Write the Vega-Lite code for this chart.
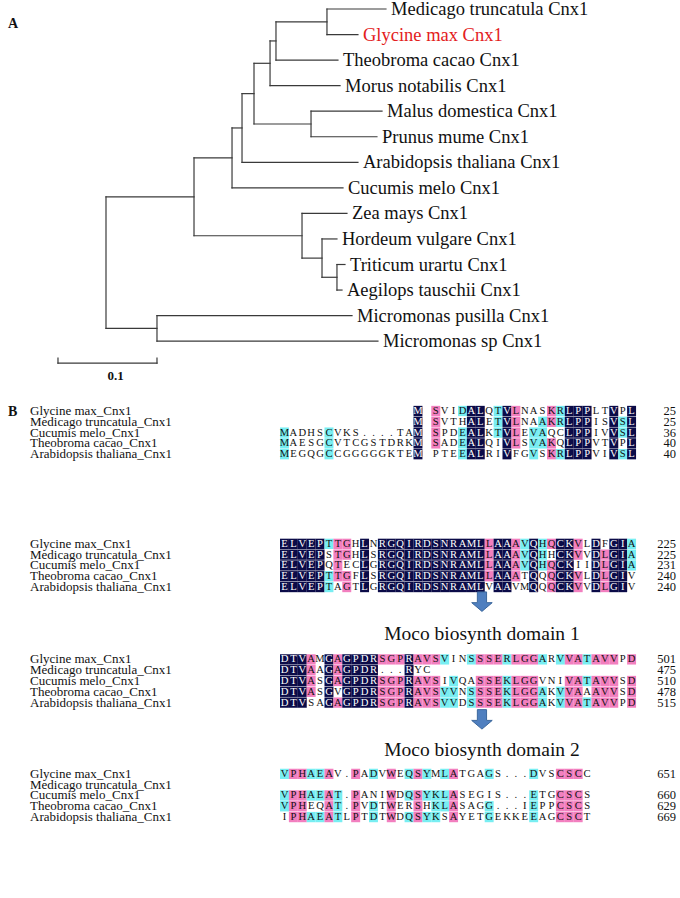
{
"$schema": "https://vega.github.io/schema/vega-lite/v6.json",
"padding": 0,
"spacing": 0,
"background": "white",
"config": {"view": {"stroke": null}, "font": "Liberation Serif"},
"datasets": {
"edges": [
{"x1":0,"x2":0.0889,"y1":7.35,"y2":7.35},{"x1":0,"x2":0.0515,"y1":12.5,"y2":12.5},
{"x1":0.0889,"x2":0.1273,"y1":5.83,"y2":5.83},{"x1":0.0889,"x2":0.198,"y1":8.875,"y2":8.875},
{"x1":0.1273,"x2":0.1374,"y1":4.656,"y2":4.656},{"x1":0.1273,"x2":0.2394,"y1":7,"y2":7},
{"x1":0.1374,"x2":0.1495,"y1":3.3125,"y2":3.3125},{"x1":0.1374,"x2":0.2545,"y1":6,"y2":6},
{"x1":0.1495,"x2":0.1657,"y1":2.125,"y2":2.125},{"x1":0.1495,"x2":0.2071,"y1":4.5,"y2":4.5},
{"x1":0.1657,"x2":0.1717,"y1":1.25,"y2":1.25},{"x1":0.1657,"x2":0.2364,"y1":3,"y2":3},
{"x1":0.1717,"x2":0.2232,"y1":0.5,"y2":0.5},{"x1":0.1717,"x2":0.2343,"y1":2,"y2":2},
{"x1":0.2232,"x2":0.2828,"y1":0,"y2":0},{"x1":0.2232,"x2":0.2545,"y1":1,"y2":1},
{"x1":0.2071,"x2":0.2788,"y1":4,"y2":4},{"x1":0.2071,"x2":0.2737,"y1":5,"y2":5},
{"x1":0.198,"x2":0.2434,"y1":8,"y2":8},{"x1":0.198,"x2":0.2182,"y1":9.75,"y2":9.75},
{"x1":0.2182,"x2":0.2333,"y1":9,"y2":9},{"x1":0.2182,"x2":0.2333,"y1":10.5,"y2":10.5},
{"x1":0.2333,"x2":0.2414,"y1":10,"y2":10},{"x1":0.2333,"x2":0.2384,"y1":11,"y2":11},
{"x1":0.0515,"x2":0.2485,"y1":12,"y2":12},{"x1":0.0515,"x2":0.2747,"y1":13,"y2":13},
{"x1":0,"x2":0,"y1":7.35,"y2":12.5},{"x1":0.0889,"x2":0.0889,"y1":5.83,"y2":8.875},
{"x1":0.1273,"x2":0.1273,"y1":4.656,"y2":7},{"x1":0.1374,"x2":0.1374,"y1":3.3125,"y2":6},
{"x1":0.1495,"x2":0.1495,"y1":2.125,"y2":4.5},{"x1":0.1657,"x2":0.1657,"y1":1.25,"y2":3},
{"x1":0.1717,"x2":0.1717,"y1":0.5,"y2":2},{"x1":0.2232,"x2":0.2232,"y1":0,"y2":1},
{"x1":0.2071,"x2":0.2071,"y1":4,"y2":5},{"x1":0.198,"x2":0.198,"y1":8,"y2":9.75},
{"x1":0.2182,"x2":0.2182,"y1":9,"y2":10.5},{"x1":0.2333,"x2":0.2333,"y1":10,"y2":11},
{"x1":0.0515,"x2":0.0515,"y1":12,"y2":13},
{"x1":-0.0485,"x2":0.0515,"y1":13.86,"y2":13.86},{"x1":-0.0485,"x2":-0.0485,"y1":13.66,"y2":13.86},{"x1":0.0515,"x2":0.0515,"y1":13.66,"y2":13.86}
],
"leaves": [
{"name":"Medicago truncatula Cnx1","idx":0,"tip":0.2828},
{"name":"Glycine max Cnx1","idx":1,"tip":0.2545},
{"name":"Theobroma cacao Cnx1","idx":2,"tip":0.2343},
{"name":"Morus notabilis Cnx1","idx":3,"tip":0.2364},
{"name":"Malus domestica Cnx1","idx":4,"tip":0.2788},
{"name":"Prunus mume Cnx1","idx":5,"tip":0.2737},
{"name":"Arabidopsis thaliana Cnx1","idx":6,"tip":0.2545},
{"name":"Cucumis melo Cnx1","idx":7,"tip":0.2394},
{"name":"Zea mays Cnx1","idx":8,"tip":0.2434},
{"name":"Hordeum vulgare Cnx1","idx":9,"tip":0.2333},
{"name":"Triticum urartu Cnx1","idx":10,"tip":0.2414},
{"name":"Aegilops tauschii Cnx1","idx":11,"tip":0.2384},
{"name":"Micromonas pusilla Cnx1","idx":12,"tip":0.2485},
{"name":"Micromonas sp Cnx1","idx":13,"tip":0.2747}
],
"treeNotes": [
{"t":"A","d":-0.099,"idx":0.59,"size":14},
{"t":"0.1","d":0.0015,"idx":14.38,"size":13}
],
"seqs": [
{"id":"a0","line":0,"name":"Glycine max_Cnx1","end":"25"},
{"id":"a1","line":1,"name":"Medicago truncatula_Cnx1","end":"25"},
{"id":"a2","line":2,"name":"Cucumis melo_Cnx1","end":"36"},
{"id":"a3","line":3,"name":"Theobroma cacao_Cnx1","end":"40"},
{"id":"a4","line":4,"name":"Arabidopsis thaliana_Cnx1","end":"40"},
{"id":"b0","line":12.3,"name":"Glycine max_Cnx1","end":"225"},
{"id":"b1","line":13.3,"name":"Medicago truncatula_Cnx1","end":"225"},
{"id":"b2","line":14.3,"name":"Cucumis melo_Cnx1","end":"231"},
{"id":"b3","line":15.3,"name":"Theobroma cacao_Cnx1","end":"240"},
{"id":"b4","line":16.3,"name":"Arabidopsis thaliana_Cnx1","end":"240"},
{"id":"c0","line":23,"name":"Glycine max_Cnx1","end":"501"},
{"id":"c1","line":24,"name":"Medicago truncatula_Cnx1","end":"475"},
{"id":"c2","line":25,"name":"Cucumis melo_Cnx1","end":"510"},
{"id":"c3","line":26,"name":"Theobroma cacao_Cnx1","end":"478"},
{"id":"c4","line":27,"name":"Arabidopsis thaliana_Cnx1","end":"515"},
{"id":"d0","line":33.6,"name":"Glycine max_Cnx1","end":"651"},
{"id":"d1","line":34.6,"name":"Medicago truncatula_Cnx1","end":""},
{"id":"d2","line":35.6,"name":"Cucumis melo_Cnx1","end":"660"},
{"id":"d3","line":36.6,"name":"Theobroma cacao_Cnx1","end":"629"},
{"id":"d4","line":37.6,"name":"Arabidopsis thaliana_Cnx1","end":"669"}
],
"heads": [
{"t":"Moco biosynth domain 1","line":20.65},
{"t":"Moco biosynth domain 2","line":31.4}
],
"arrows": [{"line":17.7},{"line":28.6}],
"res": [
{"s":"a0","c":15,"a":"M","h":"d"},{"s":"a0","c":17,"a":"S","h":"p"},{"s":"a0","c":18,"a":"V","h":"n"},{"s":"a0","c":19,"a":"I","h":"n"},{"s":"a0","c":20,"a":"D","h":"c"},{"s":"a0","c":21,"a":"A","h":"d"},{"s":"a0","c":22,"a":"L","h":"d"},{"s":"a0","c":23,"a":"Q","h":"n"},{"s":"a0","c":24,"a":"T","h":"c"},{"s":"a0","c":25,"a":"V","h":"d"},{"s":"a0","c":26,"a":"L","h":"p"},{"s":"a0","c":27,"a":"N","h":"n"},{"s":"a0","c":28,"a":"A","h":"n"},{"s":"a0","c":29,"a":"S","h":"n"},{"s":"a0","c":30,"a":"K","h":"p"},{"s":"a0","c":31,"a":"R","h":"c"},{"s":"a0","c":32,"a":"L","h":"d"},{"s":"a0","c":33,"a":"P","h":"d"},{"s":"a0","c":34,"a":"P","h":"d"},{"s":"a0","c":35,"a":"L","h":"n"},{"s":"a0","c":36,"a":"T","h":"n"},{"s":"a0","c":37,"a":"V","h":"d"},{"s":"a0","c":38,"a":"P","h":"n"},{"s":"a0","c":39,"a":"L","h":"d"},
{"s":"a1","c":15,"a":"M","h":"d"},{"s":"a1","c":17,"a":"S","h":"p"},{"s":"a1","c":18,"a":"V","h":"n"},{"s":"a1","c":19,"a":"T","h":"n"},{"s":"a1","c":20,"a":"H","h":"n"},{"s":"a1","c":21,"a":"A","h":"d"},{"s":"a1","c":22,"a":"L","h":"d"},{"s":"a1","c":23,"a":"E","h":"n"},{"s":"a1","c":24,"a":"T","h":"c"},{"s":"a1","c":25,"a":"V","h":"d"},{"s":"a1","c":26,"a":"L","h":"p"},{"s":"a1","c":27,"a":"N","h":"n"},{"s":"a1","c":28,"a":"A","h":"n"},{"s":"a1","c":29,"a":"A","h":"c"},{"s":"a1","c":30,"a":"K","h":"p"},{"s":"a1","c":31,"a":"R","h":"c"},{"s":"a1","c":32,"a":"L","h":"d"},{"s":"a1","c":33,"a":"P","h":"d"},{"s":"a1","c":34,"a":"P","h":"d"},{"s":"a1","c":35,"a":"I","h":"n"},{"s":"a1","c":36,"a":"S","h":"n"},{"s":"a1","c":37,"a":"V","h":"d"},{"s":"a1","c":38,"a":"S","h":"c"},{"s":"a1","c":39,"a":"L","h":"d"},
{"s":"a2","c":0,"a":"M","h":"c"},{"s":"a2","c":1,"a":"A","h":"n"},{"s":"a2","c":2,"a":"D","h":"n"},{"s":"a2","c":3,"a":"H","h":"n"},{"s":"a2","c":4,"a":"S","h":"n"},{"s":"a2","c":5,"a":"C","h":"c"},{"s":"a2","c":6,"a":"V","h":"n"},{"s":"a2","c":7,"a":"K","h":"n"},{"s":"a2","c":8,"a":"S","h":"n"},{"s":"a2","c":9,"a":".","h":"n"},{"s":"a2","c":10,"a":".","h":"n"},{"s":"a2","c":11,"a":".","h":"n"},{"s":"a2","c":12,"a":".","h":"n"},{"s":"a2","c":13,"a":"T","h":"n"},{"s":"a2","c":14,"a":"A","h":"n"},{"s":"a2","c":15,"a":"M","h":"d"},{"s":"a2","c":17,"a":"S","h":"p"},{"s":"a2","c":18,"a":"P","h":"n"},{"s":"a2","c":19,"a":"D","h":"n"},{"s":"a2","c":20,"a":"E","h":"c"},{"s":"a2","c":21,"a":"A","h":"d"},{"s":"a2","c":22,"a":"L","h":"d"},{"s":"a2","c":23,"a":"K","h":"n"},{"s":"a2","c":24,"a":"T","h":"c"},{"s":"a2","c":25,"a":"V","h":"d"},{"s":"a2","c":26,"a":"L","h":"p"},{"s":"a2","c":27,"a":"E","h":"n"},{"s":"a2","c":28,"a":"V","h":"c"},{"s":"a2","c":29,"a":"A","h":"c"},{"s":"a2","c":30,"a":"Q","h":"n"},{"s":"a2","c":31,"a":"C","h":"n"},{"s":"a2","c":32,"a":"L","h":"d"},{"s":"a2","c":33,"a":"P","h":"d"},{"s":"a2","c":34,"a":"P","h":"d"},{"s":"a2","c":35,"a":"I","h":"n"},{"s":"a2","c":36,"a":"V","h":"n"},{"s":"a2","c":37,"a":"V","h":"d"},{"s":"a2","c":38,"a":"S","h":"c"},{"s":"a2","c":39,"a":"L","h":"d"},
{"s":"a3","c":0,"a":"M","h":"c"},{"s":"a3","c":1,"a":"A","h":"n"},{"s":"a3","c":2,"a":"E","h":"n"},{"s":"a3","c":3,"a":"S","h":"n"},{"s":"a3","c":4,"a":"G","h":"n"},{"s":"a3","c":5,"a":"C","h":"c"},{"s":"a3","c":6,"a":"V","h":"n"},{"s":"a3","c":7,"a":"T","h":"n"},{"s":"a3","c":8,"a":"C","h":"n"},{"s":"a3","c":9,"a":"G","h":"n"},{"s":"a3","c":10,"a":"S","h":"n"},{"s":"a3","c":11,"a":"T","h":"n"},{"s":"a3","c":12,"a":"D","h":"n"},{"s":"a3","c":13,"a":"R","h":"n"},{"s":"a3","c":14,"a":"K","h":"n"},{"s":"a3","c":15,"a":"M","h":"d"},{"s":"a3","c":17,"a":"S","h":"p"},{"s":"a3","c":18,"a":"A","h":"n"},{"s":"a3","c":19,"a":"D","h":"n"},{"s":"a3","c":20,"a":"E","h":"c"},{"s":"a3","c":21,"a":"A","h":"d"},{"s":"a3","c":22,"a":"L","h":"d"},{"s":"a3","c":23,"a":"Q","h":"n"},{"s":"a3","c":24,"a":"I","h":"n"},{"s":"a3","c":25,"a":"V","h":"d"},{"s":"a3","c":26,"a":"L","h":"p"},{"s":"a3","c":27,"a":"S","h":"n"},{"s":"a3","c":28,"a":"V","h":"c"},{"s":"a3","c":29,"a":"A","h":"c"},{"s":"a3","c":30,"a":"K","h":"p"},{"s":"a3","c":31,"a":"Q","h":"n"},{"s":"a3","c":32,"a":"L","h":"d"},{"s":"a3","c":33,"a":"P","h":"d"},{"s":"a3","c":34,"a":"P","h":"d"},{"s":"a3","c":35,"a":"V","h":"n"},{"s":"a3","c":36,"a":"T","h":"n"},{"s":"a3","c":37,"a":"V","h":"d"},{"s":"a3","c":38,"a":"P","h":"n"},{"s":"a3","c":39,"a":"L","h":"d"},
{"s":"a4","c":0,"a":"M","h":"c"},{"s":"a4","c":1,"a":"E","h":"n"},{"s":"a4","c":2,"a":"G","h":"n"},{"s":"a4","c":3,"a":"Q","h":"n"},{"s":"a4","c":4,"a":"G","h":"n"},{"s":"a4","c":5,"a":"C","h":"c"},{"s":"a4","c":6,"a":"C","h":"n"},{"s":"a4","c":7,"a":"G","h":"n"},{"s":"a4","c":8,"a":"G","h":"n"},{"s":"a4","c":9,"a":"G","h":"n"},{"s":"a4","c":10,"a":"G","h":"n"},{"s":"a4","c":11,"a":"G","h":"n"},{"s":"a4","c":12,"a":"K","h":"n"},{"s":"a4","c":13,"a":"T","h":"n"},{"s":"a4","c":14,"a":"E","h":"n"},{"s":"a4","c":15,"a":"M","h":"d"},{"s":"a4","c":17,"a":"P","h":"n"},{"s":"a4","c":18,"a":"T","h":"n"},{"s":"a4","c":19,"a":"E","h":"n"},{"s":"a4","c":20,"a":"E","h":"c"},{"s":"a4","c":21,"a":"A","h":"d"},{"s":"a4","c":22,"a":"L","h":"d"},{"s":"a4","c":23,"a":"R","h":"n"},{"s":"a4","c":24,"a":"I","h":"n"},{"s":"a4","c":25,"a":"V","h":"d"},{"s":"a4","c":26,"a":"F","h":"n"},{"s":"a4","c":27,"a":"G","h":"n"},{"s":"a4","c":28,"a":"V","h":"c"},{"s":"a4","c":29,"a":"S","h":"n"},{"s":"a4","c":30,"a":"K","h":"p"},{"s":"a4","c":31,"a":"R","h":"c"},{"s":"a4","c":32,"a":"L","h":"d"},{"s":"a4","c":33,"a":"P","h":"d"},{"s":"a4","c":34,"a":"P","h":"d"},{"s":"a4","c":35,"a":"V","h":"n"},{"s":"a4","c":36,"a":"I","h":"n"},{"s":"a4","c":37,"a":"V","h":"d"},{"s":"a4","c":38,"a":"S","h":"c"},{"s":"a4","c":39,"a":"L","h":"d"},
{"s":"b0","c":0,"a":"E","h":"d"},{"s":"b0","c":1,"a":"L","h":"d"},{"s":"b0","c":2,"a":"V","h":"d"},{"s":"b0","c":3,"a":"E","h":"d"},{"s":"b0","c":4,"a":"P","h":"d"},{"s":"b0","c":5,"a":"T","h":"c"},{"s":"b0","c":6,"a":"T","h":"p"},{"s":"b0","c":7,"a":"G","h":"p"},{"s":"b0","c":8,"a":"H","h":"n"},{"s":"b0","c":9,"a":"L","h":"d"},{"s":"b0","c":10,"a":"N","h":"n"},{"s":"b0","c":11,"a":"R","h":"d"},{"s":"b0","c":12,"a":"G","h":"d"},{"s":"b0","c":13,"a":"Q","h":"d"},{"s":"b0","c":14,"a":"I","h":"d"},{"s":"b0","c":15,"a":"R","h":"d"},{"s":"b0","c":16,"a":"D","h":"d"},{"s":"b0","c":17,"a":"S","h":"d"},{"s":"b0","c":18,"a":"N","h":"d"},{"s":"b0","c":19,"a":"R","h":"d"},{"s":"b0","c":20,"a":"A","h":"d"},{"s":"b0","c":21,"a":"M","h":"d"},{"s":"b0","c":22,"a":"L","h":"d"},{"s":"b0","c":23,"a":"L","h":"p"},{"s":"b0","c":24,"a":"A","h":"d"},{"s":"b0","c":25,"a":"A","h":"d"},{"s":"b0","c":26,"a":"A","h":"p"},{"s":"b0","c":27,"a":"V","h":"c"},{"s":"b0","c":28,"a":"Q","h":"d"},{"s":"b0","c":29,"a":"H","h":"c"},{"s":"b0","c":30,"a":"Q","h":"p"},{"s":"b0","c":31,"a":"C","h":"d"},{"s":"b0","c":32,"a":"K","h":"d"},{"s":"b0","c":33,"a":"V","h":"p"},{"s":"b0","c":34,"a":"L","h":"n"},{"s":"b0","c":35,"a":"D","h":"d"},{"s":"b0","c":36,"a":"F","h":"n"},{"s":"b0","c":37,"a":"G","h":"d"},{"s":"b0","c":38,"a":"I","h":"d"},{"s":"b0","c":39,"a":"A","h":"c"},
{"s":"b1","c":0,"a":"E","h":"d"},{"s":"b1","c":1,"a":"L","h":"d"},{"s":"b1","c":2,"a":"V","h":"d"},{"s":"b1","c":3,"a":"E","h":"d"},{"s":"b1","c":4,"a":"P","h":"d"},{"s":"b1","c":5,"a":"S","h":"n"},{"s":"b1","c":6,"a":"T","h":"p"},{"s":"b1","c":7,"a":"G","h":"p"},{"s":"b1","c":8,"a":"H","h":"n"},{"s":"b1","c":9,"a":"L","h":"d"},{"s":"b1","c":10,"a":"S","h":"n"},{"s":"b1","c":11,"a":"R","h":"d"},{"s":"b1","c":12,"a":"G","h":"d"},{"s":"b1","c":13,"a":"Q","h":"d"},{"s":"b1","c":14,"a":"I","h":"d"},{"s":"b1","c":15,"a":"R","h":"d"},{"s":"b1","c":16,"a":"D","h":"d"},{"s":"b1","c":17,"a":"S","h":"d"},{"s":"b1","c":18,"a":"N","h":"d"},{"s":"b1","c":19,"a":"R","h":"d"},{"s":"b1","c":20,"a":"A","h":"d"},{"s":"b1","c":21,"a":"M","h":"d"},{"s":"b1","c":22,"a":"L","h":"d"},{"s":"b1","c":23,"a":"L","h":"p"},{"s":"b1","c":24,"a":"A","h":"d"},{"s":"b1","c":25,"a":"A","h":"d"},{"s":"b1","c":26,"a":"A","h":"p"},{"s":"b1","c":27,"a":"V","h":"c"},{"s":"b1","c":28,"a":"Q","h":"d"},{"s":"b1","c":29,"a":"H","h":"c"},{"s":"b1","c":30,"a":"H","h":"n"},{"s":"b1","c":31,"a":"C","h":"d"},{"s":"b1","c":32,"a":"K","h":"d"},{"s":"b1","c":33,"a":"V","h":"p"},{"s":"b1","c":34,"a":"V","h":"n"},{"s":"b1","c":35,"a":"D","h":"d"},{"s":"b1","c":36,"a":"L","h":"p"},{"s":"b1","c":37,"a":"G","h":"d"},{"s":"b1","c":38,"a":"I","h":"d"},{"s":"b1","c":39,"a":"A","h":"c"},
{"s":"b2","c":0,"a":"E","h":"d"},{"s":"b2","c":1,"a":"L","h":"d"},{"s":"b2","c":2,"a":"V","h":"d"},{"s":"b2","c":3,"a":"E","h":"d"},{"s":"b2","c":4,"a":"P","h":"d"},{"s":"b2","c":5,"a":"Q","h":"n"},{"s":"b2","c":6,"a":"T","h":"p"},{"s":"b2","c":7,"a":"E","h":"n"},{"s":"b2","c":8,"a":"C","h":"n"},{"s":"b2","c":9,"a":"L","h":"d"},{"s":"b2","c":10,"a":"G","h":"n"},{"s":"b2","c":11,"a":"R","h":"d"},{"s":"b2","c":12,"a":"G","h":"d"},{"s":"b2","c":13,"a":"Q","h":"d"},{"s":"b2","c":14,"a":"I","h":"d"},{"s":"b2","c":15,"a":"R","h":"d"},{"s":"b2","c":16,"a":"D","h":"d"},{"s":"b2","c":17,"a":"S","h":"d"},{"s":"b2","c":18,"a":"N","h":"d"},{"s":"b2","c":19,"a":"R","h":"d"},{"s":"b2","c":20,"a":"A","h":"d"},{"s":"b2","c":21,"a":"M","h":"d"},{"s":"b2","c":22,"a":"L","h":"d"},{"s":"b2","c":23,"a":"L","h":"p"},{"s":"b2","c":24,"a":"A","h":"d"},{"s":"b2","c":25,"a":"A","h":"d"},{"s":"b2","c":26,"a":"A","h":"p"},{"s":"b2","c":27,"a":"V","h":"c"},{"s":"b2","c":28,"a":"Q","h":"d"},{"s":"b2","c":29,"a":"H","h":"c"},{"s":"b2","c":30,"a":"Q","h":"p"},{"s":"b2","c":31,"a":"C","h":"d"},{"s":"b2","c":32,"a":"K","h":"d"},{"s":"b2","c":33,"a":"I","h":"n"},{"s":"b2","c":34,"a":"I","h":"n"},{"s":"b2","c":35,"a":"D","h":"d"},{"s":"b2","c":36,"a":"L","h":"p"},{"s":"b2","c":37,"a":"G","h":"d"},{"s":"b2","c":38,"a":"I","h":"d"},{"s":"b2","c":39,"a":"A","h":"c"},
{"s":"b3","c":0,"a":"E","h":"d"},{"s":"b3","c":1,"a":"L","h":"d"},{"s":"b3","c":2,"a":"V","h":"d"},{"s":"b3","c":3,"a":"E","h":"d"},{"s":"b3","c":4,"a":"P","h":"d"},{"s":"b3","c":5,"a":"T","h":"c"},{"s":"b3","c":6,"a":"T","h":"p"},{"s":"b3","c":7,"a":"G","h":"p"},{"s":"b3","c":8,"a":"F","h":"n"},{"s":"b3","c":9,"a":"L","h":"d"},{"s":"b3","c":10,"a":"S","h":"n"},{"s":"b3","c":11,"a":"R","h":"d"},{"s":"b3","c":12,"a":"G","h":"d"},{"s":"b3","c":13,"a":"Q","h":"d"},{"s":"b3","c":14,"a":"I","h":"d"},{"s":"b3","c":15,"a":"R","h":"d"},{"s":"b3","c":16,"a":"D","h":"d"},{"s":"b3","c":17,"a":"S","h":"d"},{"s":"b3","c":18,"a":"N","h":"d"},{"s":"b3","c":19,"a":"R","h":"d"},{"s":"b3","c":20,"a":"A","h":"d"},{"s":"b3","c":21,"a":"M","h":"d"},{"s":"b3","c":22,"a":"L","h":"d"},{"s":"b3","c":23,"a":"L","h":"p"},{"s":"b3","c":24,"a":"A","h":"d"},{"s":"b3","c":25,"a":"A","h":"d"},{"s":"b3","c":26,"a":"A","h":"p"},{"s":"b3","c":27,"a":"T","h":"n"},{"s":"b3","c":28,"a":"Q","h":"d"},{"s":"b3","c":29,"a":"Q","h":"n"},{"s":"b3","c":30,"a":"Q","h":"p"},{"s":"b3","c":31,"a":"C","h":"d"},{"s":"b3","c":32,"a":"K","h":"d"},{"s":"b3","c":33,"a":"V","h":"p"},{"s":"b3","c":34,"a":"L","h":"n"},{"s":"b3","c":35,"a":"D","h":"d"},{"s":"b3","c":36,"a":"L","h":"p"},{"s":"b3","c":37,"a":"G","h":"d"},{"s":"b3","c":38,"a":"I","h":"d"},{"s":"b3","c":39,"a":"V","h":"n"},
{"s":"b4","c":0,"a":"E","h":"d"},{"s":"b4","c":1,"a":"L","h":"d"},{"s":"b4","c":2,"a":"V","h":"d"},{"s":"b4","c":3,"a":"E","h":"d"},{"s":"b4","c":4,"a":"P","h":"d"},{"s":"b4","c":5,"a":"T","h":"c"},{"s":"b4","c":6,"a":"A","h":"n"},{"s":"b4","c":7,"a":"G","h":"p"},{"s":"b4","c":8,"a":"T","h":"n"},{"s":"b4","c":9,"a":"L","h":"d"},{"s":"b4","c":10,"a":"G","h":"n"},{"s":"b4","c":11,"a":"R","h":"d"},{"s":"b4","c":12,"a":"G","h":"d"},{"s":"b4","c":13,"a":"Q","h":"d"},{"s":"b4","c":14,"a":"I","h":"d"},{"s":"b4","c":15,"a":"R","h":"d"},{"s":"b4","c":16,"a":"D","h":"d"},{"s":"b4","c":17,"a":"S","h":"d"},{"s":"b4","c":18,"a":"N","h":"d"},{"s":"b4","c":19,"a":"R","h":"d"},{"s":"b4","c":20,"a":"A","h":"d"},{"s":"b4","c":21,"a":"M","h":"d"},{"s":"b4","c":22,"a":"L","h":"d"},{"s":"b4","c":23,"a":"V","h":"n"},{"s":"b4","c":24,"a":"A","h":"d"},{"s":"b4","c":25,"a":"A","h":"d"},{"s":"b4","c":26,"a":"V","h":"n"},{"s":"b4","c":27,"a":"M","h":"n"},{"s":"b4","c":28,"a":"Q","h":"d"},{"s":"b4","c":29,"a":"Q","h":"n"},{"s":"b4","c":30,"a":"Q","h":"p"},{"s":"b4","c":31,"a":"C","h":"d"},{"s":"b4","c":32,"a":"K","h":"d"},{"s":"b4","c":33,"a":"V","h":"p"},{"s":"b4","c":34,"a":"V","h":"n"},{"s":"b4","c":35,"a":"D","h":"d"},{"s":"b4","c":36,"a":"L","h":"p"},{"s":"b4","c":37,"a":"G","h":"d"},{"s":"b4","c":38,"a":"I","h":"d"},{"s":"b4","c":39,"a":"V","h":"n"},
{"s":"c0","c":0,"a":"D","h":"d"},{"s":"c0","c":1,"a":"T","h":"d"},{"s":"c0","c":2,"a":"V","h":"d"},{"s":"c0","c":3,"a":"A","h":"p"},{"s":"c0","c":4,"a":"M","h":"n"},{"s":"c0","c":5,"a":"G","h":"d"},{"s":"c0","c":6,"a":"A","h":"p"},{"s":"c0","c":7,"a":"G","h":"d"},{"s":"c0","c":8,"a":"P","h":"d"},{"s":"c0","c":9,"a":"D","h":"d"},{"s":"c0","c":10,"a":"R","h":"d"},{"s":"c0","c":11,"a":"S","h":"p"},{"s":"c0","c":12,"a":"G","h":"p"},{"s":"c0","c":13,"a":"P","h":"p"},{"s":"c0","c":14,"a":"R","h":"d"},{"s":"c0","c":15,"a":"A","h":"p"},{"s":"c0","c":16,"a":"V","h":"p"},{"s":"c0","c":17,"a":"S","h":"p"},{"s":"c0","c":18,"a":"V","h":"c"},{"s":"c0","c":19,"a":"I","h":"n"},{"s":"c0","c":20,"a":"N","h":"n"},{"s":"c0","c":21,"a":"S","h":"c"},{"s":"c0","c":22,"a":"S","h":"p"},{"s":"c0","c":23,"a":"S","h":"p"},{"s":"c0","c":24,"a":"E","h":"p"},{"s":"c0","c":25,"a":"R","h":"c"},{"s":"c0","c":26,"a":"L","h":"p"},{"s":"c0","c":27,"a":"G","h":"p"},{"s":"c0","c":28,"a":"G","h":"p"},{"s":"c0","c":29,"a":"A","h":"c"},{"s":"c0","c":30,"a":"R","h":"n"},{"s":"c0","c":31,"a":"V","h":"c"},{"s":"c0","c":32,"a":"V","h":"p"},{"s":"c0","c":33,"a":"A","h":"p"},{"s":"c0","c":34,"a":"T","h":"c"},{"s":"c0","c":35,"a":"A","h":"p"},{"s":"c0","c":36,"a":"V","h":"p"},{"s":"c0","c":37,"a":"V","h":"p"},{"s":"c0","c":38,"a":"P","h":"n"},{"s":"c0","c":39,"a":"D","h":"p"},
{"s":"c1","c":0,"a":"D","h":"d"},{"s":"c1","c":1,"a":"T","h":"d"},{"s":"c1","c":2,"a":"V","h":"d"},{"s":"c1","c":3,"a":"A","h":"p"},{"s":"c1","c":4,"a":"A","h":"n"},{"s":"c1","c":5,"a":"G","h":"d"},{"s":"c1","c":6,"a":"A","h":"p"},{"s":"c1","c":7,"a":"G","h":"d"},{"s":"c1","c":8,"a":"P","h":"d"},{"s":"c1","c":9,"a":"D","h":"d"},{"s":"c1","c":10,"a":"R","h":"d"},{"s":"c1","c":11,"a":".","h":"n"},{"s":"c1","c":12,"a":".","h":"n"},{"s":"c1","c":13,"a":".","h":"n"},{"s":"c1","c":14,"a":"R","h":"d"},{"s":"c1","c":15,"a":"Y","h":"n"},{"s":"c1","c":16,"a":"C","h":"n"},
{"s":"c2","c":0,"a":"D","h":"d"},{"s":"c2","c":1,"a":"T","h":"d"},{"s":"c2","c":2,"a":"V","h":"d"},{"s":"c2","c":3,"a":"A","h":"p"},{"s":"c2","c":4,"a":"S","h":"n"},{"s":"c2","c":5,"a":"G","h":"d"},{"s":"c2","c":6,"a":"A","h":"p"},{"s":"c2","c":7,"a":"G","h":"d"},{"s":"c2","c":8,"a":"P","h":"d"},{"s":"c2","c":9,"a":"D","h":"d"},{"s":"c2","c":10,"a":"R","h":"d"},{"s":"c2","c":11,"a":"S","h":"p"},{"s":"c2","c":12,"a":"G","h":"p"},{"s":"c2","c":13,"a":"P","h":"p"},{"s":"c2","c":14,"a":"R","h":"d"},{"s":"c2","c":15,"a":"A","h":"p"},{"s":"c2","c":16,"a":"V","h":"p"},{"s":"c2","c":17,"a":"S","h":"p"},{"s":"c2","c":18,"a":"I","h":"n"},{"s":"c2","c":19,"a":"V","h":"c"},{"s":"c2","c":20,"a":"Q","h":"n"},{"s":"c2","c":21,"a":"A","h":"n"},{"s":"c2","c":22,"a":"S","h":"p"},{"s":"c2","c":23,"a":"S","h":"p"},{"s":"c2","c":24,"a":"E","h":"p"},{"s":"c2","c":25,"a":"K","h":"c"},{"s":"c2","c":26,"a":"L","h":"p"},{"s":"c2","c":27,"a":"G","h":"p"},{"s":"c2","c":28,"a":"G","h":"p"},{"s":"c2","c":29,"a":"V","h":"n"},{"s":"c2","c":30,"a":"N","h":"n"},{"s":"c2","c":31,"a":"I","h":"n"},{"s":"c2","c":32,"a":"V","h":"p"},{"s":"c2","c":33,"a":"A","h":"p"},{"s":"c2","c":34,"a":"T","h":"c"},{"s":"c2","c":35,"a":"A","h":"p"},{"s":"c2","c":36,"a":"V","h":"p"},{"s":"c2","c":37,"a":"V","h":"p"},{"s":"c2","c":38,"a":"S","h":"n"},{"s":"c2","c":39,"a":"D","h":"p"},
{"s":"c3","c":0,"a":"D","h":"d"},{"s":"c3","c":1,"a":"T","h":"d"},{"s":"c3","c":2,"a":"V","h":"d"},{"s":"c3","c":3,"a":"A","h":"p"},{"s":"c3","c":4,"a":"S","h":"n"},{"s":"c3","c":5,"a":"G","h":"d"},{"s":"c3","c":6,"a":"V","h":"n"},{"s":"c3","c":7,"a":"G","h":"d"},{"s":"c3","c":8,"a":"P","h":"d"},{"s":"c3","c":9,"a":"D","h":"d"},{"s":"c3","c":10,"a":"R","h":"d"},{"s":"c3","c":11,"a":"S","h":"p"},{"s":"c3","c":12,"a":"G","h":"p"},{"s":"c3","c":13,"a":"P","h":"p"},{"s":"c3","c":14,"a":"R","h":"d"},{"s":"c3","c":15,"a":"A","h":"p"},{"s":"c3","c":16,"a":"V","h":"p"},{"s":"c3","c":17,"a":"S","h":"p"},{"s":"c3","c":18,"a":"V","h":"c"},{"s":"c3","c":19,"a":"V","h":"c"},{"s":"c3","c":20,"a":"N","h":"n"},{"s":"c3","c":21,"a":"S","h":"c"},{"s":"c3","c":22,"a":"S","h":"p"},{"s":"c3","c":23,"a":"S","h":"p"},{"s":"c3","c":24,"a":"E","h":"p"},{"s":"c3","c":25,"a":"K","h":"c"},{"s":"c3","c":26,"a":"L","h":"p"},{"s":"c3","c":27,"a":"G","h":"p"},{"s":"c3","c":28,"a":"G","h":"p"},{"s":"c3","c":29,"a":"A","h":"c"},{"s":"c3","c":30,"a":"K","h":"n"},{"s":"c3","c":31,"a":"V","h":"c"},{"s":"c3","c":32,"a":"V","h":"p"},{"s":"c3","c":33,"a":"A","h":"p"},{"s":"c3","c":34,"a":"A","h":"n"},{"s":"c3","c":35,"a":"A","h":"p"},{"s":"c3","c":36,"a":"V","h":"p"},{"s":"c3","c":37,"a":"V","h":"p"},{"s":"c3","c":38,"a":"S","h":"n"},{"s":"c3","c":39,"a":"D","h":"p"},
{"s":"c4","c":0,"a":"D","h":"d"},{"s":"c4","c":1,"a":"T","h":"d"},{"s":"c4","c":2,"a":"V","h":"d"},{"s":"c4","c":3,"a":"S","h":"n"},{"s":"c4","c":4,"a":"A","h":"n"},{"s":"c4","c":5,"a":"G","h":"d"},{"s":"c4","c":6,"a":"A","h":"p"},{"s":"c4","c":7,"a":"G","h":"d"},{"s":"c4","c":8,"a":"P","h":"d"},{"s":"c4","c":9,"a":"D","h":"d"},{"s":"c4","c":10,"a":"R","h":"d"},{"s":"c4","c":11,"a":"S","h":"p"},{"s":"c4","c":12,"a":"G","h":"p"},{"s":"c4","c":13,"a":"P","h":"p"},{"s":"c4","c":14,"a":"R","h":"d"},{"s":"c4","c":15,"a":"A","h":"p"},{"s":"c4","c":16,"a":"V","h":"p"},{"s":"c4","c":17,"a":"S","h":"p"},{"s":"c4","c":18,"a":"V","h":"c"},{"s":"c4","c":19,"a":"V","h":"c"},{"s":"c4","c":20,"a":"D","h":"n"},{"s":"c4","c":21,"a":"S","h":"c"},{"s":"c4","c":22,"a":"S","h":"p"},{"s":"c4","c":23,"a":"S","h":"p"},{"s":"c4","c":24,"a":"E","h":"p"},{"s":"c4","c":25,"a":"K","h":"c"},{"s":"c4","c":26,"a":"L","h":"p"},{"s":"c4","c":27,"a":"G","h":"p"},{"s":"c4","c":28,"a":"G","h":"p"},{"s":"c4","c":29,"a":"A","h":"c"},{"s":"c4","c":30,"a":"K","h":"n"},{"s":"c4","c":31,"a":"V","h":"c"},{"s":"c4","c":32,"a":"V","h":"p"},{"s":"c4","c":33,"a":"A","h":"p"},{"s":"c4","c":34,"a":"T","h":"c"},{"s":"c4","c":35,"a":"A","h":"p"},{"s":"c4","c":36,"a":"V","h":"p"},{"s":"c4","c":37,"a":"V","h":"p"},{"s":"c4","c":38,"a":"P","h":"n"},{"s":"c4","c":39,"a":"D","h":"p"},
{"s":"d0","c":0,"a":"V","h":"c"},{"s":"d0","c":1,"a":"P","h":"p"},{"s":"d0","c":2,"a":"H","h":"p"},{"s":"d0","c":3,"a":"A","h":"c"},{"s":"d0","c":4,"a":"E","h":"c"},{"s":"d0","c":5,"a":"A","h":"p"},{"s":"d0","c":6,"a":"V","h":"n"},{"s":"d0","c":7,"a":".","h":"n"},{"s":"d0","c":8,"a":"P","h":"p"},{"s":"d0","c":9,"a":"A","h":"n"},{"s":"d0","c":10,"a":"D","h":"c"},{"s":"d0","c":11,"a":"V","h":"n"},{"s":"d0","c":12,"a":"W","h":"p"},{"s":"d0","c":13,"a":"E","h":"n"},{"s":"d0","c":14,"a":"Q","h":"c"},{"s":"d0","c":15,"a":"S","h":"p"},{"s":"d0","c":16,"a":"Y","h":"c"},{"s":"d0","c":17,"a":"M","h":"n"},{"s":"d0","c":18,"a":"L","h":"c"},{"s":"d0","c":19,"a":"A","h":"p"},{"s":"d0","c":20,"a":"T","h":"n"},{"s":"d0","c":21,"a":"G","h":"n"},{"s":"d0","c":22,"a":"A","h":"n"},{"s":"d0","c":23,"a":"G","h":"c"},{"s":"d0","c":24,"a":"S","h":"n"},{"s":"d0","c":25,"a":".","h":"n"},{"s":"d0","c":26,"a":".","h":"n"},{"s":"d0","c":27,"a":".","h":"n"},{"s":"d0","c":28,"a":"D","h":"c"},{"s":"d0","c":29,"a":"V","h":"n"},{"s":"d0","c":30,"a":"S","h":"n"},{"s":"d0","c":31,"a":"C","h":"p"},{"s":"d0","c":32,"a":"S","h":"p"},{"s":"d0","c":33,"a":"C","h":"p"},{"s":"d0","c":34,"a":"C","h":"n"},
{"s":"d2","c":0,"a":"V","h":"c"},{"s":"d2","c":1,"a":"P","h":"p"},{"s":"d2","c":2,"a":"H","h":"p"},{"s":"d2","c":3,"a":"A","h":"c"},{"s":"d2","c":4,"a":"E","h":"c"},{"s":"d2","c":5,"a":"A","h":"p"},{"s":"d2","c":6,"a":"T","h":"c"},{"s":"d2","c":7,"a":".","h":"n"},{"s":"d2","c":8,"a":"P","h":"p"},{"s":"d2","c":9,"a":"A","h":"n"},{"s":"d2","c":10,"a":"N","h":"n"},{"s":"d2","c":11,"a":"I","h":"n"},{"s":"d2","c":12,"a":"W","h":"p"},{"s":"d2","c":13,"a":"D","h":"n"},{"s":"d2","c":14,"a":"Q","h":"c"},{"s":"d2","c":15,"a":"S","h":"p"},{"s":"d2","c":16,"a":"Y","h":"c"},{"s":"d2","c":17,"a":"K","h":"c"},{"s":"d2","c":18,"a":"L","h":"c"},{"s":"d2","c":19,"a":"A","h":"p"},{"s":"d2","c":20,"a":"S","h":"n"},{"s":"d2","c":21,"a":"E","h":"n"},{"s":"d2","c":22,"a":"G","h":"n"},{"s":"d2","c":23,"a":"I","h":"n"},{"s":"d2","c":24,"a":"S","h":"n"},{"s":"d2","c":25,"a":".","h":"n"},{"s":"d2","c":26,"a":".","h":"n"},{"s":"d2","c":27,"a":".","h":"n"},{"s":"d2","c":28,"a":"E","h":"c"},{"s":"d2","c":29,"a":"T","h":"n"},{"s":"d2","c":30,"a":"G","h":"n"},{"s":"d2","c":31,"a":"C","h":"p"},{"s":"d2","c":32,"a":"S","h":"p"},{"s":"d2","c":33,"a":"C","h":"p"},{"s":"d2","c":34,"a":"S","h":"n"},
{"s":"d3","c":0,"a":"V","h":"c"},{"s":"d3","c":1,"a":"P","h":"p"},{"s":"d3","c":2,"a":"H","h":"p"},{"s":"d3","c":3,"a":"E","h":"n"},{"s":"d3","c":4,"a":"Q","h":"n"},{"s":"d3","c":5,"a":"A","h":"p"},{"s":"d3","c":6,"a":"T","h":"c"},{"s":"d3","c":7,"a":".","h":"n"},{"s":"d3","c":8,"a":"P","h":"p"},{"s":"d3","c":9,"a":"V","h":"n"},{"s":"d3","c":10,"a":"D","h":"c"},{"s":"d3","c":11,"a":"T","h":"n"},{"s":"d3","c":12,"a":"W","h":"p"},{"s":"d3","c":13,"a":"E","h":"n"},{"s":"d3","c":14,"a":"R","h":"n"},{"s":"d3","c":15,"a":"S","h":"p"},{"s":"d3","c":16,"a":"H","h":"n"},{"s":"d3","c":17,"a":"K","h":"c"},{"s":"d3","c":18,"a":"L","h":"c"},{"s":"d3","c":19,"a":"A","h":"p"},{"s":"d3","c":20,"a":"S","h":"n"},{"s":"d3","c":21,"a":"A","h":"n"},{"s":"d3","c":22,"a":"G","h":"n"},{"s":"d3","c":23,"a":"G","h":"c"},{"s":"d3","c":24,"a":".","h":"n"},{"s":"d3","c":25,"a":".","h":"n"},{"s":"d3","c":26,"a":".","h":"n"},{"s":"d3","c":27,"a":"I","h":"n"},{"s":"d3","c":28,"a":"E","h":"c"},{"s":"d3","c":29,"a":"P","h":"n"},{"s":"d3","c":30,"a":"P","h":"n"},{"s":"d3","c":31,"a":"C","h":"p"},{"s":"d3","c":32,"a":"S","h":"p"},{"s":"d3","c":33,"a":"C","h":"p"},{"s":"d3","c":34,"a":"S","h":"n"},
{"s":"d4","c":0,"a":"I","h":"n"},{"s":"d4","c":1,"a":"P","h":"p"},{"s":"d4","c":2,"a":"H","h":"p"},{"s":"d4","c":3,"a":"A","h":"c"},{"s":"d4","c":4,"a":"E","h":"c"},{"s":"d4","c":5,"a":"A","h":"p"},{"s":"d4","c":6,"a":"T","h":"c"},{"s":"d4","c":7,"a":"L","h":"n"},{"s":"d4","c":8,"a":"P","h":"p"},{"s":"d4","c":9,"a":"T","h":"n"},{"s":"d4","c":10,"a":"D","h":"c"},{"s":"d4","c":11,"a":"T","h":"n"},{"s":"d4","c":12,"a":"W","h":"p"},{"s":"d4","c":13,"a":"D","h":"n"},{"s":"d4","c":14,"a":"Q","h":"c"},{"s":"d4","c":15,"a":"S","h":"p"},{"s":"d4","c":16,"a":"Y","h":"c"},{"s":"d4","c":17,"a":"K","h":"c"},{"s":"d4","c":18,"a":"S","h":"n"},{"s":"d4","c":19,"a":"A","h":"p"},{"s":"d4","c":20,"a":"Y","h":"n"},{"s":"d4","c":21,"a":"E","h":"n"},{"s":"d4","c":22,"a":"T","h":"n"},{"s":"d4","c":23,"a":"G","h":"c"},{"s":"d4","c":24,"a":"E","h":"n"},{"s":"d4","c":25,"a":"K","h":"n"},{"s":"d4","c":26,"a":"K","h":"n"},{"s":"d4","c":27,"a":"E","h":"n"},{"s":"d4","c":28,"a":"E","h":"c"},{"s":"d4","c":29,"a":"A","h":"n"},{"s":"d4","c":30,"a":"G","h":"n"},{"s":"d4","c":31,"a":"C","h":"p"},{"s":"d4","c":32,"a":"S","h":"p"},{"s":"d4","c":33,"a":"C","h":"p"},{"s":"d4","c":34,"a":"T","h":"n"}
]
},
"vconcat": [
{
"width": 680, "height": 380,
"layer": [
{"data": {"name": "edges"},
 "mark": {"type": "rule", "color": "#3a3a3a", "strokeWidth": 1.2, "strokeCap": "square"},
 "encoding": {
  "x": {"field": "x1", "type": "quantitative", "scale": {"domain": [-0.10707, 0.5798], "nice": false, "zero": false}, "axis": null},
  "x2": {"field": "x2"},
  "y": {"field": "y1", "type": "quantitative", "scale": {"domain": [-0.1957, 14.677], "nice": false, "zero": false, "reverse": true}, "axis": null},
  "y2": {"field": "y2"}}},
{"data": {"name": "leaves"},
 "mark": {"type": "text", "align": "left", "baseline": "middle", "dx": 5, "fontSize": 18.5, "font": "Liberation Serif"},
 "encoding": {
  "x": {"field": "tip", "type": "quantitative", "scale": {"domain": [-0.10707, 0.5798], "nice": false, "zero": false}, "axis": null},
  "y": {"field": "idx", "type": "quantitative", "scale": {"domain": [-0.1957, 14.677], "nice": false, "zero": false, "reverse": true}, "axis": null},
  "text": {"field": "name"},
  "color": {"condition": {"test": "datum.name === 'Glycine max Cnx1'", "value": "#e3201c"}, "value": "#111111"}}},
{"data": {"name": "treeNotes"},
 "mark": {"type": "text", "align": "left", "baseline": "middle", "fontWeight": "bold", "font": "Liberation Serif"},
 "encoding": {
  "x": {"field": "d", "type": "quantitative", "scale": {"domain": [-0.10707, 0.5798], "nice": false, "zero": false}, "axis": null},
  "y": {"field": "idx", "type": "quantitative", "scale": {"domain": [-0.1957, 14.677], "nice": false, "zero": false, "reverse": true}, "axis": null},
  "text": {"field": "t"},
  "size": {"field": "size", "type": "quantitative", "scale": null},
  "color": {"value": "#111111"}}}
]
},
{
"width": 680, "height": 518,
"layer": [
{"data": {"name": "res"},
 "transform": [{"lookup": "s", "from": {"data": {"name": "seqs"}, "key": "id", "fields": ["line"]}}, {"filter": "datum.h !== 'n'"}],
 "mark": {"type": "point", "shape": "M-0.87,-1H0.87V1H-0.87Z", "filled": true, "size": 106.1, "opacity": 1, "strokeWidth": 0},
 "encoding": {
  "x": {"field": "c", "type": "quantitative", "scale": {"domain": [-31.96, 44.44], "nice": false, "zero": false}, "axis": null},
  "y": {"field": "line", "type": "quantitative", "scale": {"domain": [-2.5, 45.463], "nice": false, "zero": false, "reverse": true}, "axis": null},
  "color": {"field": "h", "type": "nominal", "scale": {"domain": ["d", "p", "c"], "range": ["#0b0b48", "#f27fbf", "#78eef2"]}, "legend": null}}},
{"data": {"name": "res"},
 "transform": [{"lookup": "s", "from": {"data": {"name": "seqs"}, "key": "id", "fields": ["line"]}}],
 "mark": {"type": "text", "align": "center", "baseline": "middle", "fontSize": 10.6, "font": "Liberation Serif"},
 "encoding": {
  "x": {"field": "c", "type": "quantitative", "scale": {"domain": [-31.96, 44.44], "nice": false, "zero": false}, "axis": null},
  "y": {"field": "line", "type": "quantitative", "scale": {"domain": [-2.5, 45.463], "nice": false, "zero": false, "reverse": true}, "axis": null},
  "text": {"field": "a"},
  "fill": {"condition": {"test": "datum.h === 'd'", "value": "#ffffff"}, "value": "#111111"}}},
{"data": {"name": "seqs"},
 "mark": {"type": "text", "align": "left", "baseline": "middle", "fontSize": 13, "font": "Liberation Serif", "color": "#111111"},
 "encoding": {
  "x": {"datum": -28.59, "type": "quantitative", "scale": {"domain": [-31.96, 44.44], "nice": false, "zero": false}, "axis": null},
  "y": {"field": "line", "type": "quantitative", "scale": {"domain": [-2.5, 45.463], "nice": false, "zero": false, "reverse": true}, "axis": null},
  "text": {"field": "name"}}},
{"data": {"name": "seqs"},
 "mark": {"type": "text", "align": "right", "baseline": "middle", "fontSize": 12.5, "font": "Liberation Serif", "color": "#111111"},
 "encoding": {
  "x": {"datum": 43.99, "type": "quantitative", "scale": {"domain": [-31.96, 44.44], "nice": false, "zero": false}, "axis": null},
  "y": {"field": "line", "type": "quantitative", "scale": {"domain": [-2.5, 45.463], "nice": false, "zero": false, "reverse": true}, "axis": null},
  "text": {"field": "end"}}},
{"data": {"name": "heads"},
 "mark": {"type": "text", "align": "center", "baseline": "middle", "fontSize": 19.5, "font": "Liberation Serif", "color": "#111111"},
 "encoding": {
  "x": {"datum": 22.19, "type": "quantitative", "scale": {"domain": [-31.96, 44.44], "nice": false, "zero": false}, "axis": null},
  "y": {"field": "line", "type": "quantitative", "scale": {"domain": [-2.5, 45.463], "nice": false, "zero": false, "reverse": true}, "axis": null},
  "text": {"field": "t"}}},
{"data": {"name": "arrows"},
 "mark": {"type": "point", "shape": "M-0.45,-1H0.45V0.05H1L0,0.9L-1,0.05H-0.45Z", "filled": true, "size": 420, "opacity": 1, "color": "#4f7fbf", "stroke": "#3b679c", "strokeWidth": 1},
 "encoding": {
  "x": {"datum": 22.19, "type": "quantitative", "scale": {"domain": [-31.96, 44.44], "nice": false, "zero": false}, "axis": null},
  "y": {"field": "line", "type": "quantitative", "scale": {"domain": [-2.5, 45.463], "nice": false, "zero": false, "reverse": true}, "axis": null}}},
{"data": {"values": [{"t": "B", "line": 0.1}]},
 "mark": {"type": "text", "align": "left", "baseline": "middle", "fontSize": 14, "fontWeight": "bold", "font": "Liberation Serif", "color": "#111111"},
 "encoding": {
  "x": {"datum": -31.06, "type": "quantitative", "scale": {"domain": [-31.96, 44.44], "nice": false, "zero": false}, "axis": null},
  "y": {"field": "line", "type": "quantitative", "scale": {"domain": [-2.5, 45.463], "nice": false, "zero": false, "reverse": true}, "axis": null},
  "text": {"field": "t"}}}
]
}
]
}
